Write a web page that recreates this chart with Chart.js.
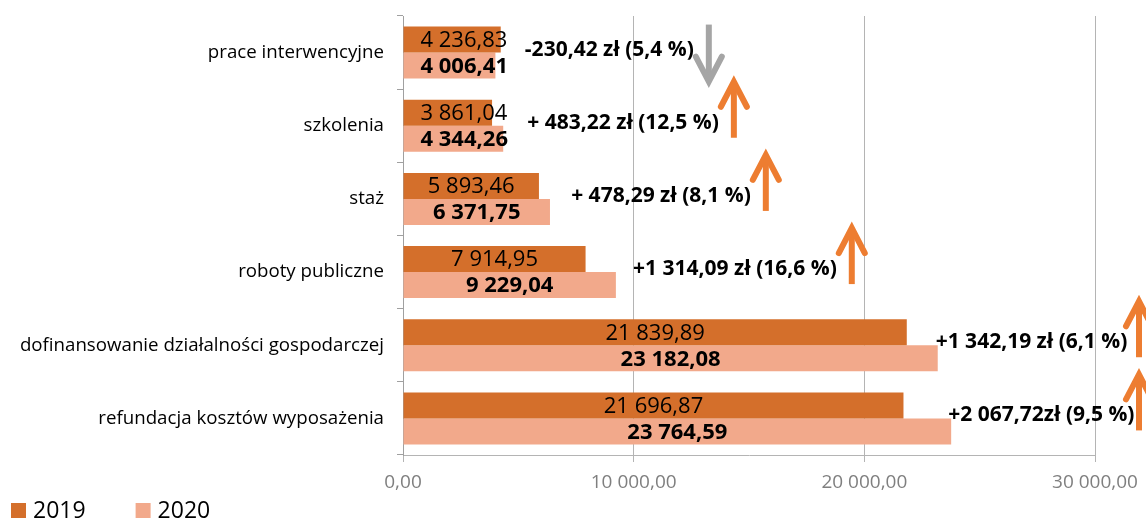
<!DOCTYPE html>
<html>
<head>
<meta charset="utf-8">
<script src="https://cdn.jsdelivr.net/npm/chart.js@4"></script>
<style>
  html, body { margin: 0; padding: 0; background: #fff; }
</style>
</head>
<body>
<canvas id="chart" width="1146" height="521"></canvas>
<script>
// -------------------------
// Data
// -------------------------
const categories = [
  "prace interwencyjne",
  "szkolenia",
  "staż",
  "roboty publiczne",
  "dofinansowanie działalności gospodarczej",
  "refundacja kosztów wyposażenia"
];
const seriesNames = ["2019", "2020"];
const values2019 = [4236.83, 3861.04, 5893.46, 7914.95, 21839.89, 21696.87];
const values2020 = [4006.41, 4344.26, 6371.75, 9229.04, 23182.08, 23764.59];
const changeLabels = [
  "-230,42 zł (5,4 %)",
  "+ 483,22 zł (12,5 %)",
  "+ 478,29 zł (8,1 %)",
  "+1 314,09 zł (16,6 %)",
  "+1 342,19 zł (6,1 %)",
  "+2 067,72zł (9,5 %)"
];
const changeUp = [false, true, true, true, true, true];
const xTickValues = [0, 10000, 20000, 30000];

const colors = ["#D46F2B", "#F2A98B"];
const FONT = '"Open Sans", "Liberation Sans", sans-serif';

// Polish number format: 23 182,08
function plNum(v) {
  const [i, d] = Number(v).toFixed(2).split(".");
  return i.replace(/\B(?=(\d{3})+(?!\d))/g, " ") + "," + d;
}

// -------------------------
// Arrow helper
// -------------------------
function drawArrow(ctx, x, yFrom, yTo, color) {
  const dir = yTo < yFrom ? 1 : -1; // arms go back towards the tail
  ctx.save();
  ctx.strokeStyle = color;
  ctx.lineWidth = 6;
  ctx.lineCap = "butt";
  ctx.beginPath();
  ctx.moveTo(x, yFrom);
  ctx.lineTo(x, yTo + dir * 3);
  ctx.stroke();
  ctx.lineCap = "round";
  ctx.lineJoin = "miter";
  ctx.beginPath();
  ctx.moveTo(x - 13, yTo + dir * 25);
  ctx.lineTo(x, yTo);
  ctx.lineTo(x + 13, yTo + dir * 25);
  ctx.stroke();
  ctx.restore();
}

// -------------------------
// Labels, change notes, legend
// -------------------------
const extrasPlugin = {
  id: "extras",
  afterDatasetsDraw(chart) {
    const { ctx, scales: { x, y } } = chart;

    // values on bars
    chart.data.datasets.forEach((ds, di) => {
      const meta = chart.getDatasetMeta(di);
      ctx.save();
      ctx.font = (di === 1 ? "bold " : "") + "22px " + FONT;
      ctx.fillStyle = "#000";
      ctx.textAlign = "center";
      ctx.textBaseline = "middle";
      meta.data.forEach((bar, i) => {
        const txt = plNum(ds.data[i]);
        const w = ctx.measureText(txt).width;
        const cx = Math.max((bar.base + bar.x) / 2, bar.base + 17 + w / 2);
        ctx.fillText(txt, cx, bar.y + 1);
      });
      ctx.restore();
    });

    // change notes + arrows
    ctx.save();
    ctx.font = "bold 21px " + FONT;
    ctx.fillStyle = "#000";
    ctx.textAlign = "left";
    ctx.textBaseline = "middle";
    categories.forEach((c, i) => {
      const yc = y.getPixelForValue(i);
      const xs = x.getPixelForValue(Math.max(values2019[i], values2020[i]) * 0.94) + 30;
      ctx.fillText(changeLabels[i], xs, yc - 3);
      // keep the arrow shaft on the canvas
      const ax = Math.min(xs + ctx.measureText(changeLabels[i]).width + 15, chart.width - 7);
      if (changeUp[i]) drawArrow(ctx, ax, yc + 12, yc - 44, "#ED7D31");
      else drawArrow(ctx, ax, yc - 28, yc + 29, "#A5A5A5");
    });
    ctx.restore();
  },
  afterDraw(chart) {
    // legend bottom-left
    const { ctx } = chart;
    ctx.save();
    ctx.font = "23px " + FONT;
    ctx.textBaseline = "middle";
    ctx.textAlign = "left";
    let lx = 11;
    chart.data.datasets.forEach(ds => {
      ctx.fillStyle = ds.backgroundColor;
      ctx.fillRect(lx, 503, 15, 15);
      ctx.fillStyle = "#000";
      ctx.fillText(ds.label, lx + 22, 511);
      lx += 22 + ctx.measureText(ds.label).width + 50;
    });
    ctx.restore();
  }
};

// -------------------------
// Chart
// -------------------------
const ctx = document.getElementById("chart").getContext("2d");
new Chart(ctx, {
  type: "bar",
  data: {
    labels: categories,
    datasets: [
      { label: seriesNames[0], data: values2019, backgroundColor: colors[0], categoryPercentage: 0.71, barPercentage: 1 },
      { label: seriesNames[1], data: values2020, backgroundColor: colors[1], categoryPercentage: 0.71, barPercentage: 1 }
    ]
  },
  options: {
    indexAxis: "y",
    responsive: false,
    animation: false,
    devicePixelRatio: 1,
    layout: { padding: { top: 16, right: 51, left: 0, bottom: 0 } },
    plugins: {
      legend: { display: false },
      tooltip: { enabled: false }
    },
    scales: {
      x: {
        min: 0,
        max: 30000,
        afterBuildTicks: s => { s.ticks = xTickValues.map(v => ({ value: v })); },
        afterFit: s => { s.height = 66; s.paddingLeft = 0; s.paddingRight = 0; },
        grid: { color: "#B4B4B4", tickLength: 7 },
        border: { color: "#B4B4B4" },
        ticks: {
          callback: v => plNum(v),
          font: { family: FONT, size: 19 },
          color: "#7F7F7F",
          padding: 9,
          maxRotation: 0
        }
      },
      y: {
        afterFit: s => { s.width = 403; s.paddingTop = 0; s.paddingBottom = 0; },
        grid: { drawOnChartArea: false, color: "#A0A0A0", tickLength: 6, offset: true },
        border: { color: "#A0A0A0" },
        ticks: {
          font: { family: FONT, size: 18.7 },
          color: "#000",
          padding: 13
        }
      }
    }
  },
  plugins: [extrasPlugin]
});
</script>
</body>
</html>
